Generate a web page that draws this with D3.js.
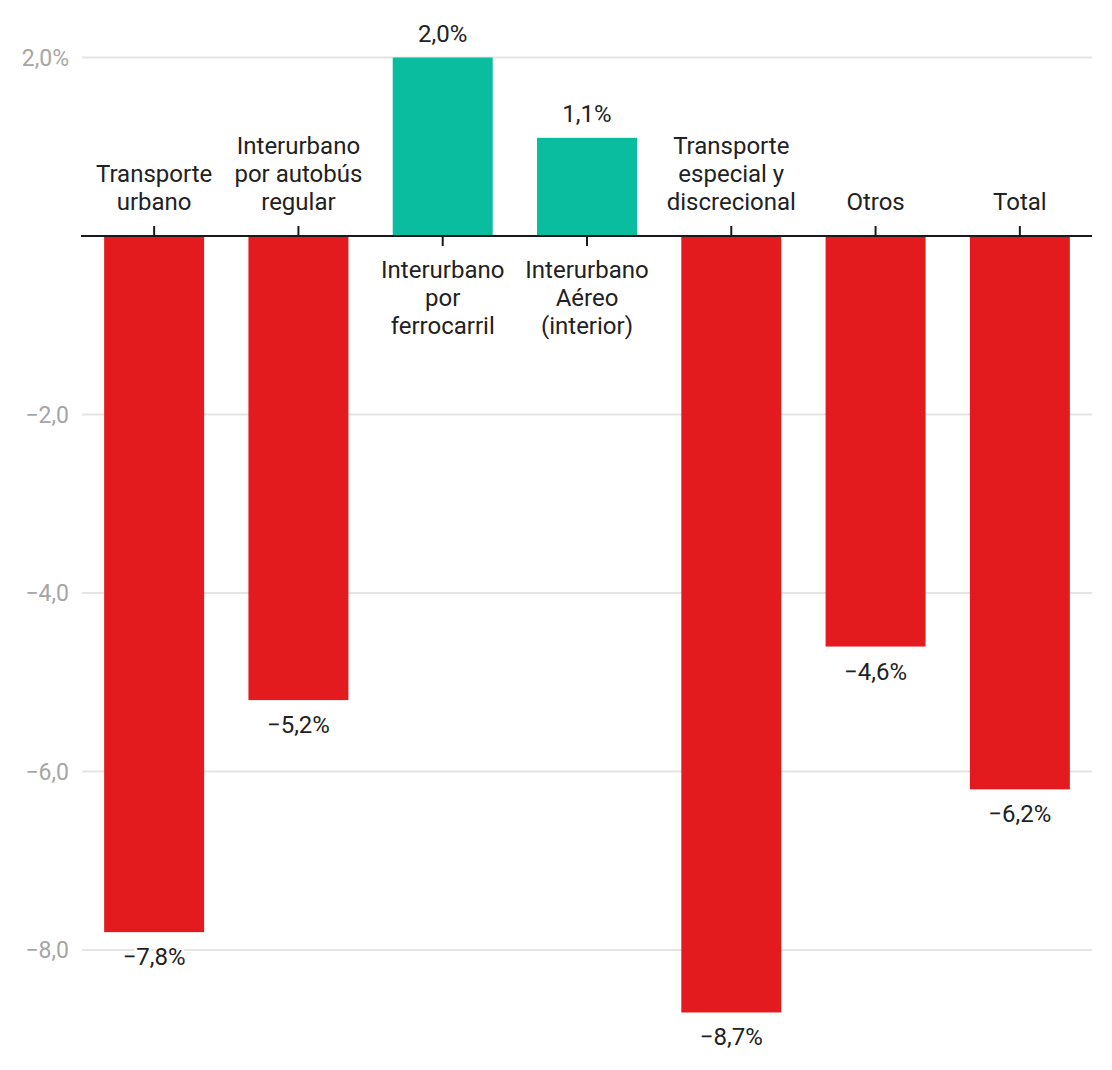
<!DOCTYPE html>
<html>
<head>
<meta charset="utf-8">
<script src="https://cdn.jsdelivr.net/npm/d3@7"></script>
<style>
  body { margin: 0; background: #fff; }
  svg { display: block; font-family: Roboto, sans-serif; }
</style>
</head>
<body>
<svg id="chart" width="1112" height="1070"></svg>
<script>
// categories, with line breaks as they show in the labels
const categories = [
  "Transporte\nurbano",
  "Interurbano\npor autobús\nregular",
  "Interurbano\npor\nferrocarril",
  "Interurbano\nAéreo\n(interior)",
  "Transporte\nespecial y\ndiscrecional",
  "Otros",
  "Total"
];
const values = [-7.8, -5.2, 2.0, 1.1, -8.7, -4.6, -6.2];
const yTicks = [2, -2, -4, -6, -8];

const svg = d3.select("#chart");
const left = 82, right = 1092;
const lineH = 28;
const fmt = v => d3.format(".1f")(v).replace(".", ",").replace("-", "\u2212");

const x = d3.scaleBand()
  .domain(categories)
  .range([left, right])
  .paddingInner(0.307)
  .paddingOuter(0.1535);

const y = d3.scaleLinear()
  .domain([-8, 2])
  .range([950, 57.5]);

// gridlines
svg.append("g")
  .selectAll("line")
  .data(yTicks)
  .enter()
  .append("line")
    .attr("x1", left)
    .attr("x2", right)
    .attr("y1", d => y(d))
    .attr("y2", d => y(d))
    .attr("stroke", "#e4e4e4")
    .attr("stroke-width", 2);

// y labels
svg.append("g")
  .selectAll("text")
  .data(yTicks)
  .enter()
  .append("text")
    .attr("x", 69)
    .attr("y", d => y(d))
    .attr("dy", "0.35em")
    .attr("text-anchor", "end")
    .attr("font-size", 23)
    .attr("fill", "#a6a6a6")
    .text(d => fmt(d) + (d === 2 ? "%" : ""));

// bars
svg.append("g")
  .selectAll("rect")
  .data(values)
  .enter()
  .append("rect")
    .attr("x", (d, i) => x(categories[i]))
    .attr("width", x.bandwidth())
    .attr("y", d => y(Math.max(0, d)))
    .attr("height", d => Math.abs(y(d) - y(0)))
    .attr("fill", d => d < 0 ? "#e31b1e" : "#0abd9e");

// zero axis + ticks pointing at the label
svg.append("line")
  .attr("x1", left - 1)
  .attr("x2", right)
  .attr("y1", y(0))
  .attr("y2", y(0))
  .attr("stroke", "#1a1a1a")
  .attr("stroke-width", 2);

svg.append("g")
  .selectAll("line")
  .data(values)
  .enter()
  .append("line")
    .attr("x1", (d, i) => x(categories[i]) + x.bandwidth() / 2)
    .attr("x2", (d, i) => x(categories[i]) + x.bandwidth() / 2)
    .attr("y1", y(0))
    .attr("y2", d => d < 0 ? y(0) - 10 : y(0) + 10)
    .attr("stroke", "#1a1a1a")
    .attr("stroke-width", 2);

// category labels
const cat = svg.append("g")
  .selectAll("text")
  .data(values)
  .enter()
  .append("text")
    .attr("text-anchor", "middle")
    .attr("font-size", 24)
    .attr("fill", "#222");

cat.each(function (d, i) {
  const lines = categories[i].split("\n");
  const cx = x(categories[i]) + x.bandwidth() / 2;
  // above the axis for negative bars, below for positive ones
  const y0 = d < 0 ? y(0) - 26 - (lines.length - 1) * lineH : y(0) + 42;
  d3.select(this).selectAll("tspan")
    .data(lines)
    .enter()
    .append("tspan")
      .attr("x", cx)
      .attr("y", (l, j) => y0 + j * lineH)
      .text(l => l);
});

// value labels
svg.append("g")
  .selectAll("text")
  .data(values)
  .enter()
  .append("text")
    .attr("x", (d, i) => x(categories[i]) + x.bandwidth() / 2)
    .attr("y", d => d < 0 ? y(d) + 33 : y(d) - 16)
    .attr("text-anchor", "middle")
    .attr("font-size", 24)
    .attr("fill", "#222")
    .attr("stroke", "#fff")
    .attr("stroke-width", 5)
    .attr("stroke-linejoin", "round")
    .attr("paint-order", "stroke")
    .text(d => fmt(d) + "%");
</script>
</body>
</html>
